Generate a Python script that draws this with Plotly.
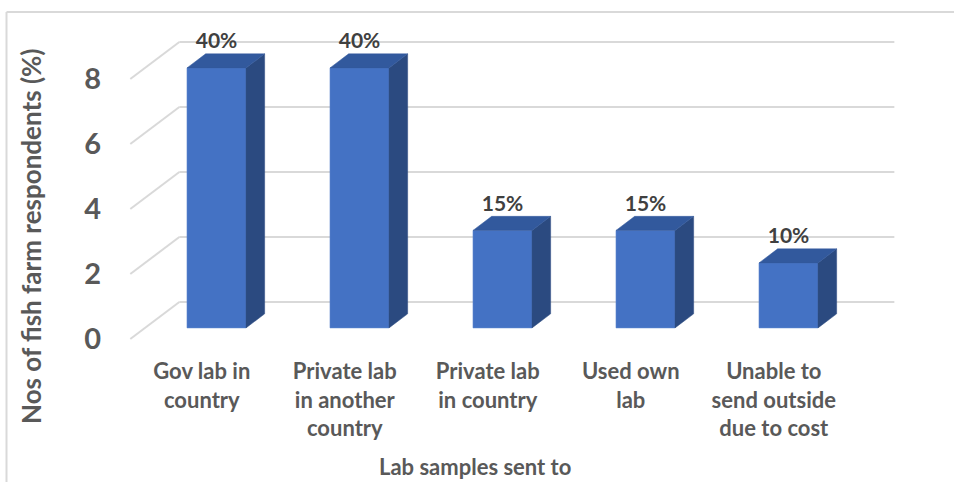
import plotly.graph_objects as go

# ---- data -------------------------------------------------------------
categories = [
    "Gov lab in<br>country",
    "Private lab<br>in another<br>country",
    "Private lab<br>in country",
    "Used own<br>lab",
    "Unable to<br>send outside<br>due to cost",
]
respondents = [8, 8, 3, 3, 2]
total_respondents = 20
y_ticks = [0, 2, 4, 6, 8]
pct_labels = [f"{v / total_respondents * 100:.0f}%" for v in respondents]

# ---- pseudo-3D geometry (axis units) ---------------------------------
DEPTH_DX = 0.343      # horizontal shift for full floor depth (category units)
DEPTH_DY = 1.138      # vertical shift for full floor depth (value units)
BAR_FRONT = 0.30      # depth fraction of bar front face
BAR_BACK = 0.68       # depth fraction of bar back face
BAR_W = 0.4126        # bar width (category units)
FLOOR_L, FLOOR_R = -0.5, 4.5

FRONT_C = "#4472C4"
TOP_C = "#32599D"
SIDE_C = "#2B4A80"
GRID_C = "#D9D9D9"
TXT_C = "#595959"
FONT = "Lato"

# plot-area pixel box inside the 954x482 canvas
W, H = 954, 482
L, R, T, B = 110, 905, 20, 350


def px_x(p):
    return (p - L) / (R - L)


def px_y(p):
    return (B - p) / (B - T)


fig = go.Figure()

# back wall and left wall gridlines
shapes = []
for v in y_ticks:
    shapes.append(dict(type="line", xref="x", yref="y", layer="below",
                       x0=FLOOR_L + DEPTH_DX, x1=FLOOR_R + DEPTH_DX,
                       y0=v + DEPTH_DY, y1=v + DEPTH_DY,
                       line=dict(color=GRID_C, width=2)))
    shapes.append(dict(type="line", xref="x", yref="y", layer="below",
                       x0=FLOOR_L, x1=FLOOR_L + DEPTH_DX,
                       y0=v, y1=v + DEPTH_DY,
                       line=dict(color=GRID_C, width=2)))

# chart frame
shapes.append(dict(type="line", xref="paper", yref="paper",
                   x0=px_x(6.5), x1=px_x(W), y0=px_y(12), y1=px_y(12),
                   line=dict(color=GRID_C, width=2)))
shapes.append(dict(type="line", xref="paper", yref="paper",
                   x0=px_x(6.5), x1=px_x(6.5), y0=px_y(12), y1=px_y(H),
                   line=dict(color=GRID_C, width=2)))

front_shift = BAR_FRONT * DEPTH_DX
base = BAR_FRONT * DEPTH_DY
ddx = (BAR_BACK - BAR_FRONT) * DEPTH_DX
ddy = (BAR_BACK - BAR_FRONT) * DEPTH_DY
xs = [i + front_shift for i in range(len(categories))]

# front faces
fig.add_trace(go.Bar(
    x=xs, y=respondents, base=[base] * len(respondents), width=BAR_W,
    marker=dict(color=FRONT_C, line=dict(width=0.6, color="#5B85CF")),
    hoverinfo="skip", showlegend=False,
))

# top and side faces
for xc, h in zip(xs, respondents):
    xl, xr = xc - BAR_W / 2, xc + BAR_W / 2
    top = base + h
    fig.add_trace(go.Scatter(
        x=[xr, xr + ddx, xr + ddx, xr, xr],
        y=[base, base + ddy, top + ddy, top, base],
        fill="toself", fillcolor=SIDE_C, mode="lines",
        line=dict(color=SIDE_C, width=0.5),
        hoverinfo="skip", showlegend=False,
    ))
    fig.add_trace(go.Scatter(
        x=[xl, xr, xr + ddx, xl + ddx, xl],
        y=[top, top, top + ddy, top + ddy, top],
        fill="toself", fillcolor=TOP_C, mode="lines",
        line=dict(color=TOP_C, width=0.5),
        hoverinfo="skip", showlegend=False,
    ))

# percentage labels
fig.add_trace(go.Scatter(
    x=xs, y=[base + h + 0.76 for h in respondents],
    mode="text", text=pct_labels, textposition="middle center",
    textfont=dict(family=FONT, size=21, color="#404040", weight=700),
    hoverinfo="skip", showlegend=False,
))

fig.update_layout(
    width=W, height=H,
    margin=dict(l=L, r=W - R, t=T, b=H - B),
    plot_bgcolor="white", paper_bgcolor="white",
    shapes=shapes,
    xaxis=dict(
        range=[(L - 201.8) / 143, (R - 201.8) / 143],
        tickvals=list(range(len(categories))), ticktext=categories,
        showgrid=False, zeroline=False, showline=False, ticks="",
        tickfont=dict(family=FONT, size=22, color=TXT_C, weight=700),
        ticklabelstandoff=6, fixedrange=True,
    ),
    yaxis=dict(
        range=[(339 - B) / 32.5, (339 - T) / 32.5],
        tickvals=y_ticks,
        showgrid=False, zeroline=False, showline=False, ticks="",
        tickfont=dict(family=FONT, size=29, color=TXT_C, weight=700),
        ticklabelstandoff=8, fixedrange=True,
    ),
    annotations=[
        dict(text="Nos of fish farm respondents (%)", xref="paper", yref="paper",
             x=px_x(31), y=px_y(237), textangle=-90, showarrow=False,
             xanchor="center", yanchor="middle",
             font=dict(family=FONT, size=26, color=TXT_C, weight=700)),
        dict(text="Lab samples sent to", xref="paper", yref="paper",
             x=px_x(475), y=px_y(466), showarrow=False,
             xanchor="center", yanchor="middle",
             font=dict(family=FONT, size=22, color=TXT_C, weight=700)),
    ],
    showlegend=False,
)

fig.write_html("out.html")
